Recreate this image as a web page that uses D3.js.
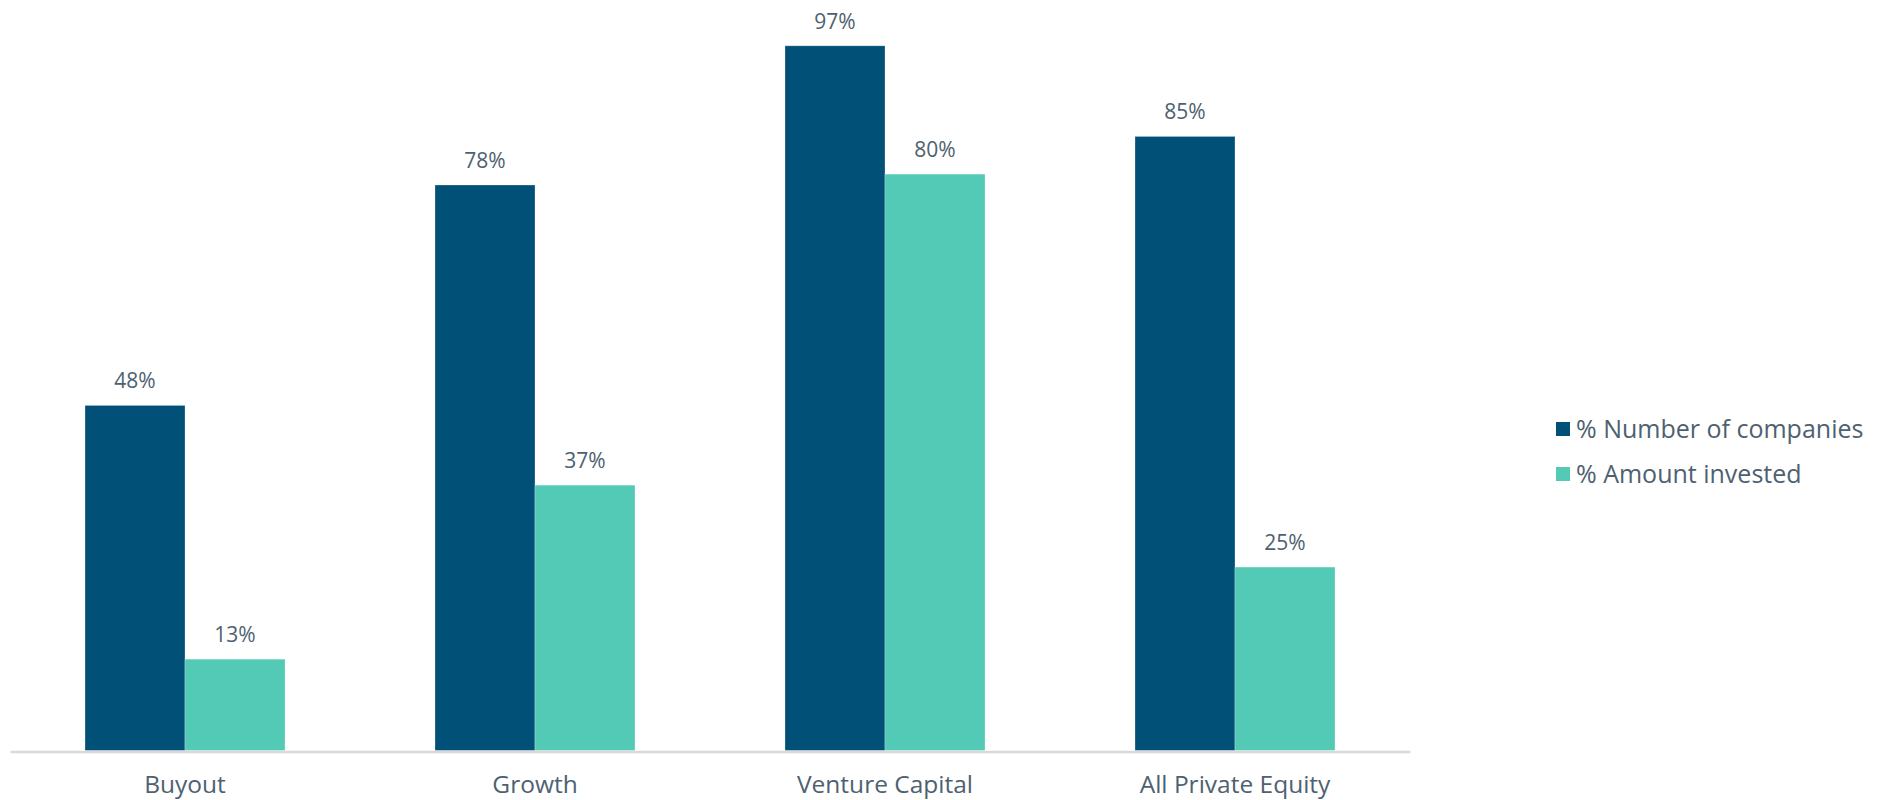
<!DOCTYPE html>
<html><head><meta charset="utf-8">
<script src="https://cdn.jsdelivr.net/npm/d3@7"></script>
<style>
html,body{margin:0;padding:0;background:#fff;}
svg{display:block;font-family:"Open Sans",sans-serif;}
</style></head>
<body>
<svg id="chart" width="1879" height="800"></svg>
<script>
const categories = ["Buyout", "Growth", "Venture Capital", "All Private Equity"];
const seriesNames = ["% Number of companies", "% Amount invested"];
const numberOfCompanies = [47.6, 78.0, 97.2, 84.7];
const amountInvested = [12.6, 36.6, 79.5, 25.3];
const seriesColors = ["#005078", "#52CAB5"];

const seriesValues = [numberOfCompanies, amountInvested];
const svg = d3.select("#chart");
const textColor = "#4E6170";

const x0 = d3.scaleBand().domain(categories).range([10, 1410]).paddingInner(3/7).paddingOuter(1.5/7);
const x1 = d3.scaleBand().domain(d3.range(seriesNames.length)).range([0, x0.bandwidth()]);
const y = d3.scaleLinear().domain([0, 100]).range([750.5, 25.5]);

const groups = svg.selectAll("g.grp").data(categories).join("g")
  .attr("transform", d => `translate(${x0(d)},0)`);

groups.each(function(cat, ci) {
  const g = d3.select(this);
  seriesValues.forEach((vals, si) => {
    g.append("rect")
      .attr("x", x1(si)).attr("width", x1.bandwidth())
      .attr("y", y(vals[ci])).attr("height", y(0) - y(vals[ci]))
      .attr("fill", seriesColors[si])
      .attr("stroke", "#ffffff").attr("stroke-opacity", 0.35).attr("stroke-width", 0.8);
    g.append("text")
      .attr("x", x1(si) + x1.bandwidth() / 2)
      .attr("y", y(vals[ci]) - 17)
      .attr("text-anchor", "middle")
      .attr("font-size", 21)
      .attr("fill", textColor)
      .text(Math.round(vals[ci]) + "%");
  });
});

// x axis
const xAxis = d3.axisBottom(x0).tickSize(0).tickPadding(24).tickSizeOuter(0);
const axisG = svg.append("g").attr("transform", `translate(0,${y(0)+1})`).call(xAxis);
axisG.select(".domain").attr("stroke", "#d9d9d9").attr("stroke-width", 2.5);
axisG.selectAll("text").attr("font-size", 24.5).attr("fill", textColor)
  .attr("font-family", "'Open Sans',sans-serif");

// legend
const legend = svg.append("g").attr("transform", "translate(1556,422)");
seriesNames.forEach((name, i) => {
  const lg = legend.append("g").attr("transform", `translate(0,${i * 45})`);
  lg.append("rect").attr("width", 14).attr("height", 14).attr("fill", seriesColors[i]);
  lg.append("text").attr("x", 20).attr("y", 16).attr("font-size", 25).attr("fill", textColor).text(name);
});
</script>
</body></html>
